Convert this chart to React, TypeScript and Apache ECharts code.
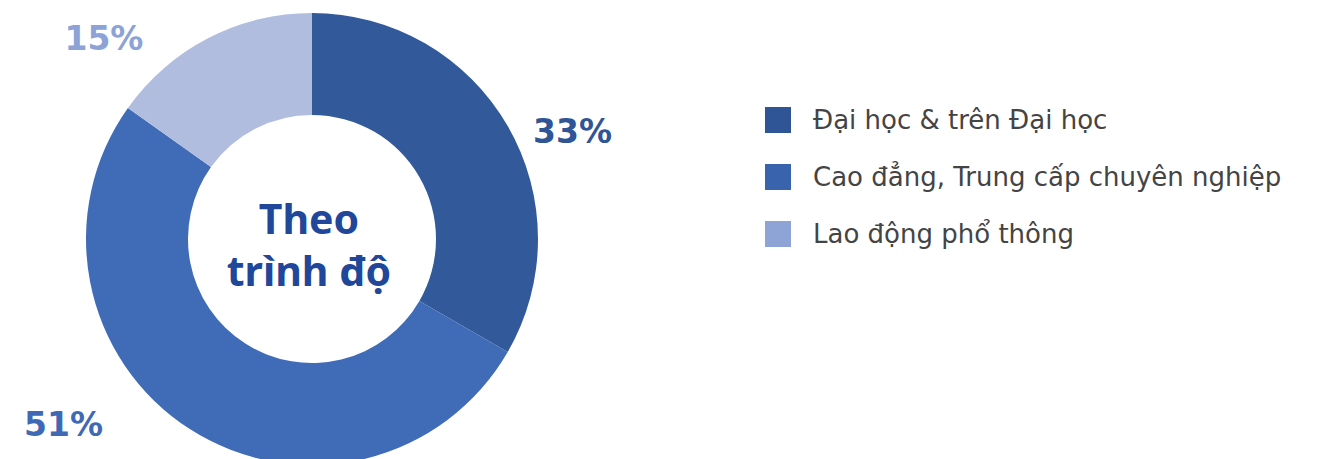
import React, { useEffect, useRef } from "react";
import * as echarts from "echarts";

const categories = [
  "Đại học & trên Đại học",
  "Cao đẳng, Trung cấp chuyên nghiệp",
  "Lao động phổ thông",
];
const values = [33, 51, 15];
const centerTitle = "Theo\ntrình độ";

const sliceColors = ["#32599A", "#3F6BB7", "#B0BDDF"];
const legendColors = ["#2F5597", "#3A63AD", "#8FA4D6"];
const labelColors = ["#2F5597", "#3F69B5", "#8DA2D6"];
const labelLineLengths = [
  [-10, 29],
  [-6, 85],
  [0, 60],
];

export default function App() {
  const ref = useRef<HTMLDivElement>(null);
  useEffect(() => {
    document.body.style.margin = "0";
    const chart = echarts.init(ref.current!, null, { renderer: "svg" });
    const data = categories.map((name, i) => ({
      name,
      value: values[i],
      itemStyle: { color: sliceColors[i] },
      label: { color: labelColors[i] },
      labelLine: {
        show: false,
        length: labelLineLengths[i][0],
        length2: labelLineLengths[i][1],
      },
    }));
    chart.setOption({
      animation: false,
      legend: {
        orient: "vertical",
        left: 765,
        top: 106,
        padding: 0,
        itemWidth: 26,
        itemHeight: 26,
        itemGap: 29,
        icon: "rect",
        selectedMode: false,
        data: categories.map((name, i) => ({
          name,
          itemStyle: { color: legendColors[i] },
        })),
        textStyle: {
          fontFamily: "DejaVu Sans",
          fontSize: 26,
          color: "#444444",
          lineHeight: 10,
          padding: [18, 0, 0, 17],
        },
      },
      graphic: [
        {
          type: "text",
          x: 309,
          y: 244,
          style: {
            text: centerTitle,
            fontFamily: "Noto Sans",
            fontWeight: "bold",
            fontSize: 41,
            lineHeight: 52,
            fill: "#21479A",
            textAlign: "center",
            textVerticalAlign: "middle",
          },
        },
      ],
      series: [
        {
          type: "pie",
          center: [312, 239],
          radius: [124, 226],
          startAngle: 90,
          clockwise: true,
          avoidLabelOverlap: false,
          label: {
            show: true,
            position: "outside",
            formatter: "{c}%",
            fontFamily: "DejaVu Sans",
            fontWeight: "bold",
            fontSize: 33,
            distanceToLabelLine: 5,
          },
          labelLine: { show: false },
          emphasis: { disabled: true },
          data,
        },
      ],
    });
    return () => chart.dispose();
  }, []);
  return <div ref={ref} style={{ width: 1326, height: 459 }} />;
}
